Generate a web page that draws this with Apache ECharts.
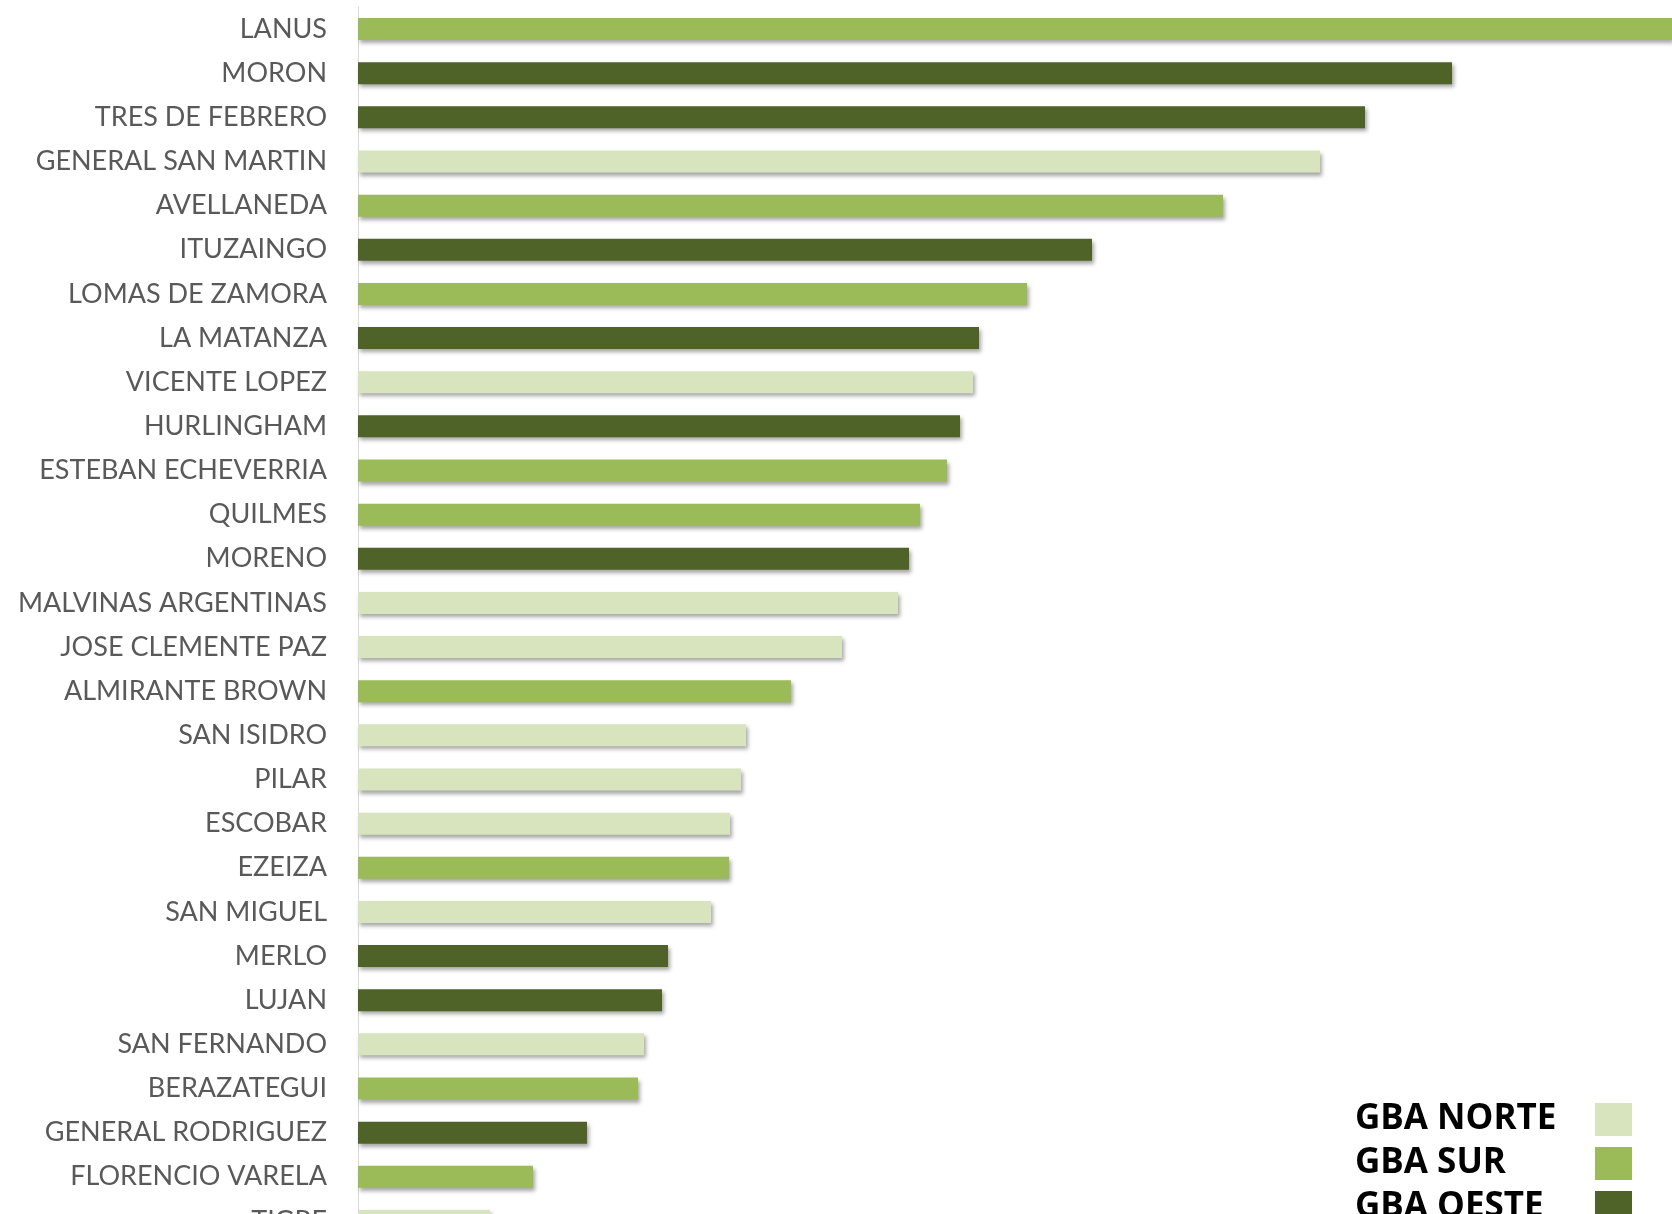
<!DOCTYPE html>
<html>
	<head>
		<meta charset="utf-8" />
		<title></title>
		<script type="text/javascript" src="https://cdn.jsdelivr.net/npm/echarts@6/dist/echarts.min.js"></script>
		<style>
			html, body { margin: 0; padding: 0; background: #fff; }
			#chart { width: 1672px; height: 1214px; }
		</style>
	</head>
	<body>
		<div id="chart"></div>
		<script type="text/javascript">
			// partidos del conurbano, de mayor a menor
			var partidos = ['LANUS', 'MORON', 'TRES DE FEBRERO', 'GENERAL SAN MARTIN', 'AVELLANEDA', 'ITUZAINGO',
				'LOMAS DE ZAMORA', 'LA MATANZA', 'VICENTE LOPEZ', 'HURLINGHAM', 'ESTEBAN ECHEVERRIA', 'QUILMES',
				'MORENO', 'MALVINAS ARGENTINAS', 'JOSE CLEMENTE PAZ', 'ALMIRANTE BROWN', 'SAN ISIDRO', 'PILAR',
				'ESCOBAR', 'EZEIZA', 'SAN MIGUEL', 'MERLO', 'LUJAN', 'SAN FERNANDO', 'BERAZATEGUI',
				'GENERAL RODRIGUEZ', 'FLORENCIO VARELA', 'TIGRE'];
			var valores = [1400, 1094, 1007, 962, 865, 734, 669, 621, 615, 602, 589, 562, 551, 540, 484, 433,
				388, 383, 372, 371, 353, 310, 304, 286, 280, 229, 175, 132];
			// zona de cada partido: N = norte, S = sur, O = oeste
			var zonas = ['S', 'O', 'O', 'N', 'S', 'O', 'S', 'O', 'N', 'O', 'S', 'S', 'O', 'N', 'N', 'S',
				'N', 'N', 'N', 'S', 'N', 'O', 'O', 'N', 'S', 'O', 'S', 'N'];
			var nombresZona = ['GBA NORTE', 'GBA SUR', 'GBA OESTE'];
			var codigosZona = ['N', 'S', 'O'];
			var coloresZona = ['#d7e4bd', '#9bbb59', '#4f6228'];

			var series = [];
			for (var z = 0; z < codigosZona.length; z++) {
				var datos = [];
				for (var i = 0; i < partidos.length; i++) {
					datos.push(zonas[i] == codigosZona[z] ? valores[i] : '-');
				}
				series.push({
					name: nombresZona[z],
					type: 'bar',
					stack: 'total',
					barWidth: 22,
					data: datos,
					itemStyle: {
						color: coloresZona[z],
						shadowColor: 'rgba(0,0,0,0.35)',
						shadowBlur: 4,
						shadowOffsetX: 2,
						shadowOffsetY: 3
					}
				});
			}

			var myChart = echarts.init(document.getElementById('chart'));
			var option = {
				animation: false,
				legend: {
					orient: 'vertical',
					left: 1355,
					top: 1102,
					height: 200,
					padding: 0,
					itemGap: 9,
					align: 'right',
					icon: 'rect',
					itemWidth: 37,
					itemHeight: 33,
					data: nombresZona,
					formatter: '{t|{name}}',
					textStyle: {
						rich: {
							t: {
								fontFamily: 'Open Sans',
								fontWeight: 'bold',
								fontSize: 35,
								color: '#000',
								width: 235,
								align: 'left',
								lineHeight: 43
							}
						}
					}
				},
				grid: {
					left: 358,
					top: 7,
					width: 1314,
					height: 1236,
					outerBoundsMode: 'none'
				},
				xAxis: {
					type: 'value',
					min: 0,
					max: 1314,
					show: false
				},
				yAxis: {
					type: 'category',
					inverse: true,
					data: partidos,
					axisLine: { show: true, lineStyle: { color: '#d9d9d9', width: 1 } },
					axisTick: { show: false },
					splitLine: { show: false },
					axisLabel: {
						margin: 31,
						fontFamily: 'Lato',
						fontSize: 27,
						color: '#595959'
					}
				},
				series: series
			};
			myChart.setOption(option);
		</script>
	</body>
</html>
